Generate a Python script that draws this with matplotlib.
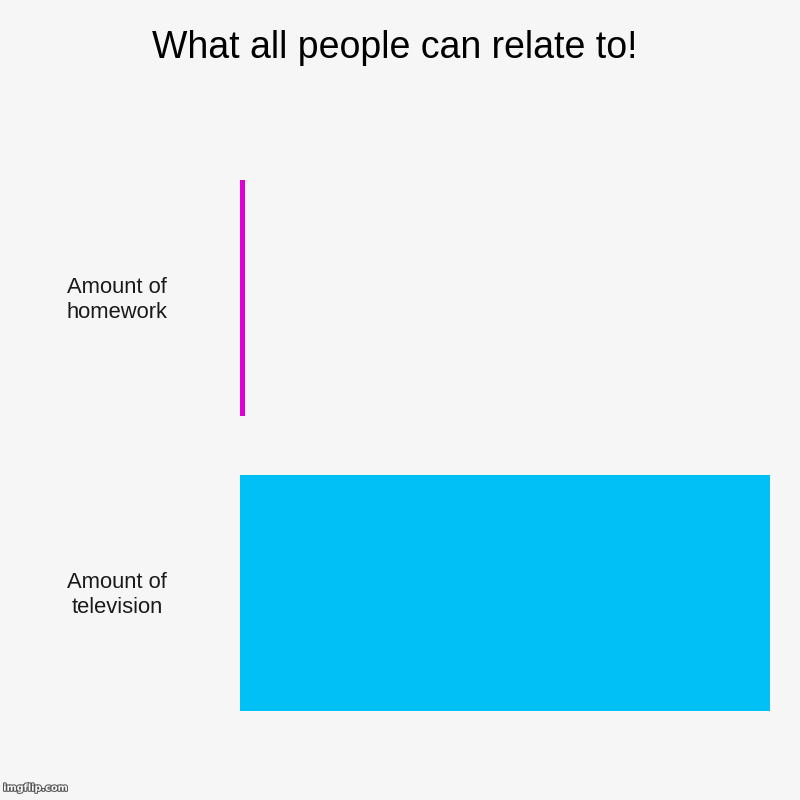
import matplotlib
matplotlib.use("Agg")
import matplotlib.pyplot as plt
import matplotlib.patheffects as pe

title = "What all people can relate to!"
categories = ["Amount of\nhomework", "Amount of\ntelevision"]
values = [1, 100]
colors = ["#dc00d4", "#00c0f5"]
bg = "#f6f6f6"

fig = plt.figure(figsize=(8, 8), dpi=100, facecolor=bg)
ax = fig.add_axes([0.3, 0.0744, 0.6625, 0.7375])
ax.set_facecolor(bg)

ypos = list(range(len(categories)))
ax.barh(ypos, values, height=0.8, color=colors)
ax.set_ylim(len(categories) - 0.5, -0.5)
ax.set_xlim(0, max(values))

ax.set_xticks([])
ax.set_yticks([])
for s in ax.spines.values():
    s.set_visible(False)

for y, lab in zip(ypos, categories):
    ax.text(-123 / 530 * max(values), y + 0.006, lab, ha="center", va="center",
            fontsize=15.8, family="Liberation Sans", color="#1a1a1a",
            linespacing=1.25)

fig.text(0.494, 0.94, title, ha="center", va="center", fontsize=27,
         family="Liberation Sans", color="black")

fig.text(0.004, 0.009, "imgflip.com", ha="left", va="bottom", fontsize=7,
         family="DejaVu Sans", fontweight="bold", color="white",
         path_effects=[pe.withStroke(linewidth=1.5, foreground="#555555")])

fig.savefig("out.png", dpi=100, facecolor=bg)
